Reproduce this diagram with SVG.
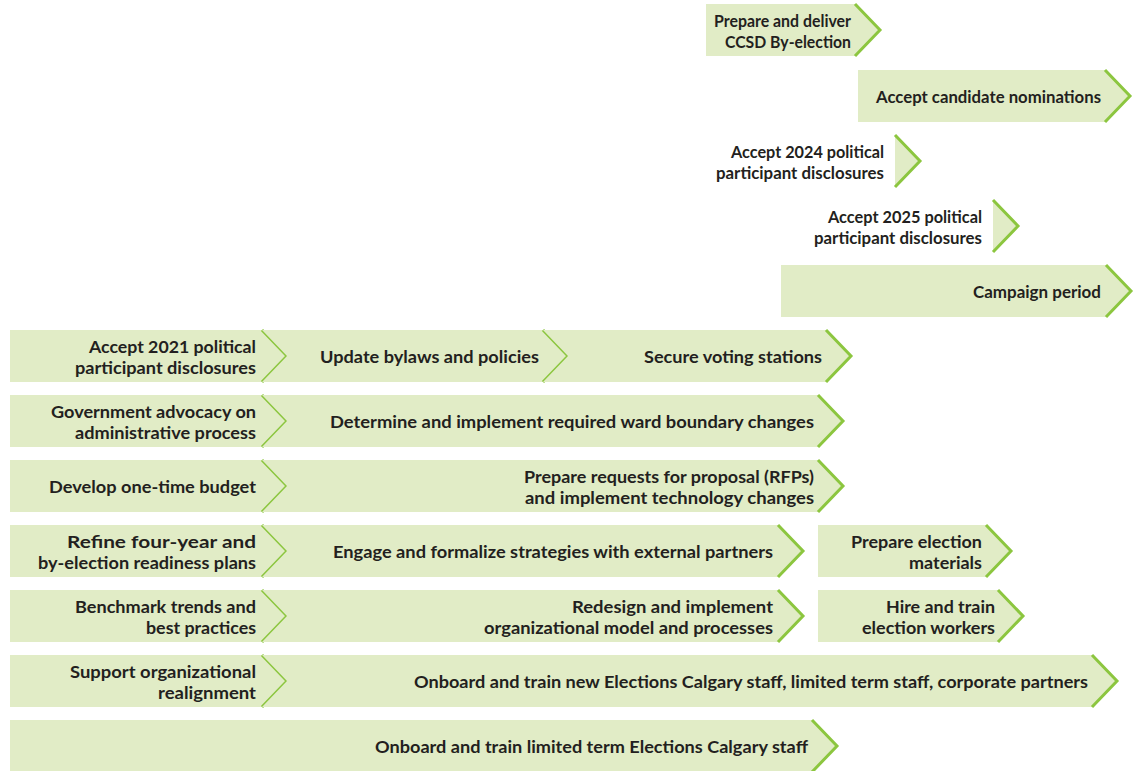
<svg xmlns="http://www.w3.org/2000/svg" width="1139" height="771" viewBox="0 0 1139 771">
<style>
.f{fill:#e1ecc6;stroke:none}
.c{fill:none;stroke:#8cc63f;stroke-width:3;stroke-linejoin:miter}
.t{font-family:Lato,"Open Sans","Liberation Sans",sans-serif;font-weight:700;font-size:17px;fill:#231f20;text-anchor:end}
</style>
<rect width="1139" height="771" fill="#ffffff"/>
<g id="n-ccsd">
<polygon class="f" points="706,4 855,4 880,30 855,56 706,56"/>
<polyline class="c" points="855,4 880,30 855,56"/>
<text class="t" x="851" y="27" textLength="137" lengthAdjust="spacingAndGlyphs">Prepare and deliver</text>
<text class="t" x="851" y="48" textLength="126" lengthAdjust="spacingAndGlyphs">CCSD By-election</text>
</g>
<g id="n-nominations">
<polygon class="f" points="858,70 1105,70 1130,96 1105,122 858,122"/>
<polyline class="c" points="1105,70 1130,96 1105,122"/>
<text class="t" x="1101" y="103" textLength="225" lengthAdjust="spacingAndGlyphs">Accept candidate nominations</text>
</g>
<g id="n-disc2024">
<polygon class="f" points="895,135 920,161 895,187"/>
<polyline class="c" points="895,135 920,161 895,187"/>
<text class="t" x="884" y="158" textLength="153" lengthAdjust="spacingAndGlyphs">Accept 2024 political</text>
<text class="t" x="884" y="179" textLength="168" lengthAdjust="spacingAndGlyphs">participant disclosures</text>
</g>
<g id="n-disc2025">
<polygon class="f" points="993,200 1018,226 993,252"/>
<polyline class="c" points="993,200 1018,226 993,252"/>
<text class="t" x="982" y="223" textLength="154" lengthAdjust="spacingAndGlyphs">Accept 2025 political</text>
<text class="t" x="982" y="244" textLength="168" lengthAdjust="spacingAndGlyphs">participant disclosures</text>
</g>
<g id="n-campaign">
<polygon class="f" points="781,265 1106,265 1131,291 1106,317 781,317"/>
<polyline class="c" points="1106,265 1131,291 1106,317"/>
<text class="t" x="1101" y="298" textLength="128" lengthAdjust="spacingAndGlyphs">Campaign period</text>
</g>
<g id="n-disc2021">
<polygon class="f" points="10,330 262,330 287,356 262,382 10,382"/>
<polyline class="c" points="262,330 287,356 262,382"/>
<text class="t" x="256" y="353" textLength="167" lengthAdjust="spacingAndGlyphs">Accept 2021 political</text>
<text class="t" x="256" y="374" textLength="181" lengthAdjust="spacingAndGlyphs">participant disclosures</text>
</g>
<g id="n-bylaws">
<polygon class="f" points="262,330 543,330 568,356 543,382 262,382 287,356"/>
<polyline class="c" points="543,330 568,356 543,382"/>
<text class="t" x="539" y="363" textLength="219" lengthAdjust="spacingAndGlyphs">Update bylaws and policies</text>
</g>
<g id="n-voting">
<polygon class="f" points="543,330 826,330 851,356 826,382 543,382 568,356"/>
<polyline class="c" points="826,330 851,356 826,382"/>
<text class="t" x="822" y="363" textLength="178" lengthAdjust="spacingAndGlyphs">Secure voting stations</text>
</g>
<g id="n-advocacy">
<polygon class="f" points="10,395 262,395 287,421 262,447 10,447"/>
<polyline class="c" points="262,395 287,421 262,447"/>
<text class="t" x="256" y="418" textLength="205" lengthAdjust="spacingAndGlyphs">Government advocacy on</text>
<text class="t" x="256" y="439" textLength="181" lengthAdjust="spacingAndGlyphs">administrative process</text>
</g>
<g id="n-ward">
<polygon class="f" points="262,395 818,395 843,421 818,447 262,447 287,421"/>
<polyline class="c" points="818,395 843,421 818,447"/>
<text class="t" x="814" y="428" textLength="484" lengthAdjust="spacingAndGlyphs">Determine and implement required ward boundary changes</text>
</g>
<g id="n-budget">
<polygon class="f" points="10,460 262,460 287,486 262,512 10,512"/>
<polyline class="c" points="262,460 287,486 262,512"/>
<text class="t" x="256" y="493" textLength="207" lengthAdjust="spacingAndGlyphs">Develop one-time budget</text>
</g>
<g id="n-rfp">
<polygon class="f" points="262,460 818,460 843,486 818,512 262,512 287,486"/>
<polyline class="c" points="818,460 843,486 818,512"/>
<text class="t" x="814" y="483" textLength="290" lengthAdjust="spacingAndGlyphs">Prepare requests for proposal (RFPs)</text>
<text class="t" x="814" y="504" textLength="289" lengthAdjust="spacingAndGlyphs">and implement technology changes</text>
</g>
<g id="n-readiness">
<polygon class="f" points="10,525 262,525 287,551 262,577 10,577"/>
<polyline class="c" points="262,525 287,551 262,577"/>
<text class="t" x="256" y="548" textLength="189" lengthAdjust="spacingAndGlyphs">Refine four-year and</text>
<text class="t" x="256" y="569" textLength="218" lengthAdjust="spacingAndGlyphs">by-election readiness plans</text>
</g>
<g id="n-partners">
<polygon class="f" points="262,525 778,525 803,551 778,577 262,577 287,551"/>
<polyline class="c" points="778,525 803,551 778,577"/>
<text class="t" x="773" y="558" textLength="440" lengthAdjust="spacingAndGlyphs">Engage and formalize strategies with external partners</text>
</g>
<g id="n-materials">
<polygon class="f" points="818,525 986,525 1011,551 986,577 818,577"/>
<polyline class="c" points="986,525 1011,551 986,577"/>
<text class="t" x="982" y="548" textLength="131" lengthAdjust="spacingAndGlyphs">Prepare election</text>
<text class="t" x="982" y="569" textLength="73" lengthAdjust="spacingAndGlyphs">materials</text>
</g>
<g id="n-benchmark">
<polygon class="f" points="10,590 262,590 287,616 262,642 10,642"/>
<polyline class="c" points="262,590 287,616 262,642"/>
<text class="t" x="256" y="613" textLength="181" lengthAdjust="spacingAndGlyphs">Benchmark trends and</text>
<text class="t" x="256" y="634" textLength="110" lengthAdjust="spacingAndGlyphs">best practices</text>
</g>
<g id="n-redesign">
<polygon class="f" points="262,590 778,590 803,616 778,642 262,642 287,616"/>
<polyline class="c" points="778,590 803,616 778,642"/>
<text class="t" x="773" y="613" textLength="201" lengthAdjust="spacingAndGlyphs">Redesign and implement</text>
<text class="t" x="773" y="634" textLength="289" lengthAdjust="spacingAndGlyphs">organizational model and processes</text>
</g>
<g id="n-workers">
<polygon class="f" points="818,590 998,590 1023,616 998,642 818,642"/>
<polyline class="c" points="998,590 1023,616 998,642"/>
<text class="t" x="995" y="613" textLength="109" lengthAdjust="spacingAndGlyphs">Hire and train</text>
<text class="t" x="995" y="634" textLength="133" lengthAdjust="spacingAndGlyphs">election workers</text>
</g>
<g id="n-realign">
<polygon class="f" points="10,655 262,655 287,681 262,707 10,707"/>
<polyline class="c" points="262,655 287,681 262,707"/>
<text class="t" x="256" y="678" textLength="186" lengthAdjust="spacingAndGlyphs">Support organizational</text>
<text class="t" x="256" y="699" textLength="98" lengthAdjust="spacingAndGlyphs">realignment</text>
</g>
<g id="n-onboard-new">
<polygon class="f" points="262,655 1092,655 1117,681 1092,707 262,707 287,681"/>
<polyline class="c" points="1092,655 1117,681 1092,707"/>
<text class="t" x="1088" y="688" textLength="674" lengthAdjust="spacingAndGlyphs">Onboard and train new Elections Calgary staff, limited term staff, corporate partners</text>
</g>
<g id="n-onboard-limited">
<polygon class="f" points="10,720 812,720 837,746 812,772 10,772"/>
<polyline class="c" points="812,720 837,746 812,772"/>
<text class="t" x="808" y="753" textLength="433" lengthAdjust="spacingAndGlyphs">Onboard and train limited term Elections Calgary staff</text>
</g>
<g id="connectors"></g>
</svg>
